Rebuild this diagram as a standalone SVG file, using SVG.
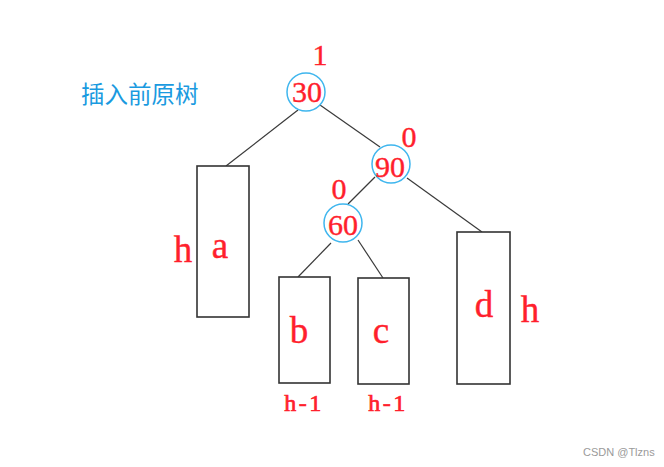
<svg xmlns="http://www.w3.org/2000/svg" width="664" height="467" viewBox="0 0 664 467">
<style>
.bg{fill:#fff}
.edge{stroke:#3a3a3a;stroke-width:1.2;fill:none}
.box{fill:#fff;stroke:#333;stroke-width:1.6}
.node{fill:none;stroke:#3fb6ee;stroke-width:1.5}
.red{fill:#ff1f2d;stroke:#ff1f2d;stroke-width:0.4;font-family:"Liberation Serif","DejaVu Serif",serif;text-anchor:middle}
.num{font-size:30px}
.let{font-size:37px}
.small{font-size:24px;letter-spacing:2.5px;stroke-width:0.7}
.title{fill:#1a9ae0;font-family:"Noto Sans CJK SC","Noto Sans",sans-serif;font-size:23.5px}
.wm{fill:#9a9a9a;font-family:"Liberation Sans","DejaVu Sans",sans-serif;font-size:11px}
</style>
<rect class="bg" x="0" y="0" width="664" height="467"/>
<text class="title" x="81" y="103">插入前原树</text>
<g id="connectors">
<line class="edge" x1="298" y1="110" x2="226" y2="166"/>
<line class="edge" x1="320" y1="105" x2="380" y2="147"/>
<line class="edge" x1="375" y1="177" x2="348" y2="204"/>
<line class="edge" x1="407" y1="178" x2="482" y2="232"/>
<line class="edge" x1="331" y1="243" x2="298" y2="277"/>
<line class="edge" x1="358" y1="240" x2="383" y2="278"/>
</g>
<g id="node-30">
<circle class="node" cx="306" cy="92" r="19"/>
<text class="red num" x="307" y="102">30</text>
<text class="red num" x="320" y="65">1</text>
</g>
<g id="node-90">
<circle class="node" cx="391" cy="164" r="19"/>
<text class="red num" x="390" y="177">90</text>
<text class="red num" x="409" y="147">0</text>
</g>
<g id="node-60">
<circle class="node" cx="343" cy="223" r="19"/>
<text class="red num" x="343" y="235">60</text>
<text class="red num" x="339" y="199">0</text>
</g>
<g id="subtree-a">
<rect class="box" x="197" y="166" width="52" height="151"/>
<text class="red let" x="220" y="258">a</text>
<text class="red let" x="183" y="262">h</text>
</g>
<g id="subtree-b">
<rect class="box" x="279" y="277" width="51" height="106"/>
<text class="red let" x="299" y="343">b</text>
<text class="red small" x="304" y="411">h-1</text>
</g>
<g id="subtree-c">
<rect class="box" x="358" y="278" width="51" height="106"/>
<text class="red let" x="381" y="343">c</text>
<text class="red small" x="388" y="411">h-1</text>
</g>
<g id="subtree-d">
<rect class="box" x="457" y="232" width="53" height="152"/>
<text class="red let" x="484" y="317">d</text>
<text class="red let" x="530" y="322">h</text>
</g>
<text class="wm" x="583" y="456">CSDN @Tlzns</text>
</svg>
